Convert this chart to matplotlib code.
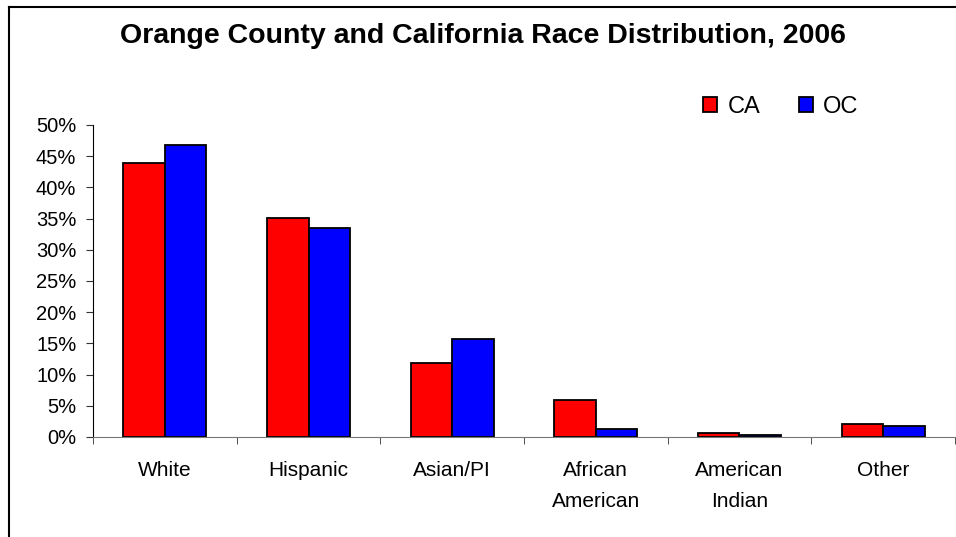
import matplotlib.pyplot as plt
from matplotlib.lines import Line2D
from matplotlib.ticker import PercentFormatter
import numpy as np

plt.rcParams['font.family'] = ['Liberation Sans', 'DejaVu Sans']

# data
categories = ['White', 'Hispanic', 'Asian/PI', 'African\nAmerican', 'American\nIndian', 'Other']
ca_share = [43.9, 35.1, 11.9, 5.9, 0.6, 2.1]
oc_share = [46.8, 33.5, 15.7, 1.3, 0.3, 1.8]

fig = plt.figure(figsize=(9.56, 5.37), dpi=100)
ax = fig.add_axes([93 / 956, 1 - 437 / 537, 862 / 956, 312 / 537])

x = np.arange(len(categories))
w = 0.29
ax.bar(x - w / 2, ca_share, w, color='#ff0000', edgecolor='black', linewidth=1.3, label='CA')
ax.bar(x + w / 2, oc_share, w, color='#0000ff', edgecolor='black', linewidth=1.3, label='OC')

ax.set_xlim(-0.5, len(categories) - 0.5)
ax.set_ylim(0, 50)
ax.set_yticks(np.arange(0, 51, 5))
ax.yaxis.set_major_formatter(PercentFormatter(decimals=0))
ax.set_xticks(x)
ax.set_xticklabels(categories, linespacing=1.85)
ax.set_xticks(np.arange(-0.5, len(categories)), minor=True)
ax.tick_params(axis='x', which='major', length=0, pad=17, labelsize=15)
ax.tick_params(axis='x', which='minor', length=5, color='#333333')
ax.tick_params(axis='y', length=5, labelsize=14.5, pad=7, color='#333333')

for s in ['top', 'right']:
    ax.spines[s].set_visible(False)
ax.spines['left'].set_color('black')
ax.spines['bottom'].set_color('#777777')

ax.legend(loc='center left', bbox_to_anchor=(682 / 956, 1 - 107 / 537), bbox_transform=fig.transFigure,
          ncol=2, frameon=False, fontsize=17, handlelength=0.6, handleheight=0.6,
          handletextpad=0.45, columnspacing=1.6)

fig.text(483 / 956, 1 - 36 / 537, 'Orange County and California Race Distribution, 2006',
         ha='center', va='center', fontsize=20.5, fontweight='bold')

# chart frame (only left and top edges visible)
fig.add_artist(Line2D([9 / 956, 9 / 956], [0, 1 - 7 / 537], color='black', linewidth=1.5, transform=fig.transFigure))
fig.add_artist(Line2D([9 / 956, 1], [1 - 7 / 537, 1 - 7 / 537], color='black', linewidth=1.5, transform=fig.transFigure))

fig.savefig('out.png', dpi=100)
